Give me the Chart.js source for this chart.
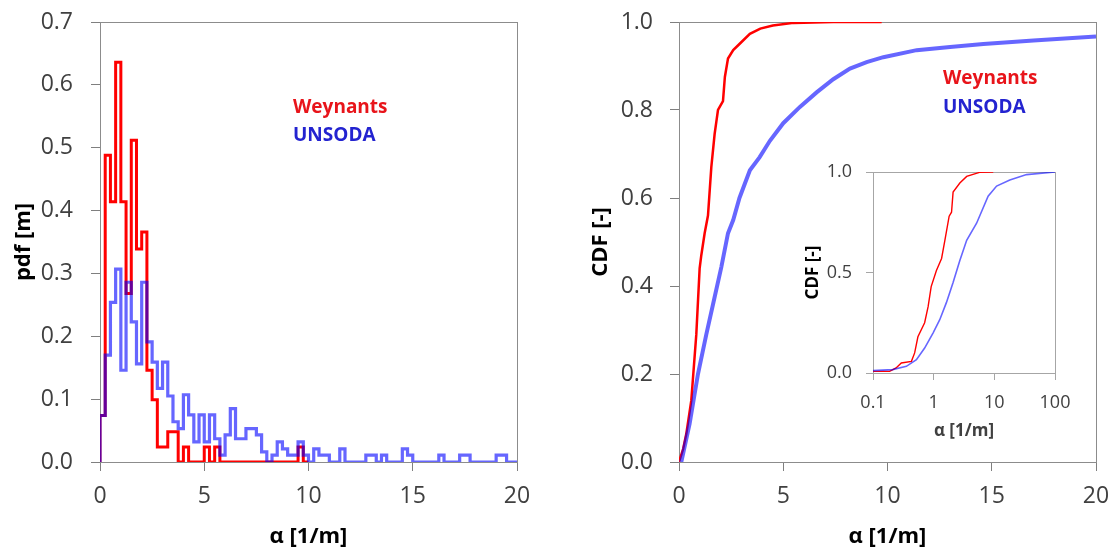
<!DOCTYPE html>
<html lang="en">
<head>
<meta charset="UTF-8">
<title>alpha pdf / CDF</title>
<script src="https://cdn.jsdelivr.net/npm/chart.js"></script>
<style>
  body { margin: 0; background: #fff; width: 1114px; height: 552px; position: relative; overflow: hidden; }
  canvas { position: absolute; }
  .leg { position: absolute; font-family: "Open Sans", sans-serif; font-weight: bold; font-size: 19px; line-height: 19px; white-space: nowrap; }
</style>
</head>
<body>
  <canvas id="grafPdf" width="560" height="552" style="left:0;top:0"></canvas>
  <canvas id="grafCdf" width="554" height="552" style="left:560px;top:0"></canvas>
  <canvas id="grafInset" width="300" height="300" style="left:790px;top:150px"></canvas>

  <div class="leg" style="left:293px;top:97px;color:#e8141a">Weynants</div>
  <div class="leg" style="left:293px;top:125px;color:#2323d0">UNSODA</div>
  <div class="leg" style="left:943px;top:68px;color:#e8141a">Weynants</div>
  <div class="leg" style="left:943px;top:97px;color:#2323d0">UNSODA</div>

<script>
// histogram bins, width 0.25 1/m starting at 0
const binWidth = 0.25;
const weynantsPdf = [
  0.074, 0.488, 0.414, 0.636, 0.414, 0.268, 0.512, 0.339, 0.366, 0.146,
  0.099, 0.024, 0.024, 0.048, 0.048, 0, 0.024, 0, 0, 0,
  0.024, 0, 0.024, 0, 0, 0, 0, 0, 0, 0,
  0, 0, 0, 0, 0, 0, 0, 0, 0.024, 0
];
const unsodaPdf = [
  0.074, 0.170, 0.254, 0.307, 0.146, 0.286, 0.223, 0.156, 0.286, 0.191,
  0.159, 0.117, 0.159, 0.105, 0.064, 0.053, 0.107, 0.075, 0.032, 0.075,
  0.032, 0.075, 0.037, 0.011, 0.043, 0.085, 0.037, 0.037, 0.053, 0.053,
  0.043, 0.016, 0, 0.011, 0.032, 0.021, 0.011, 0.011, 0.032, 0.011,
  0, 0.021, 0.011, 0.011, 0, 0, 0.021, 0, 0, 0,
  0, 0.011, 0.011, 0, 0.011, 0, 0, 0, 0.021, 0.011,
  0, 0, 0, 0, 0, 0.011, 0, 0, 0, 0.011,
  0.011, 0, 0, 0, 0, 0, 0.011, 0.011, 0, 0
];

// CDF, linear alpha axis (main panel)
const weyAlpha = [0, 0.2, 0.35, 0.59, 0.83, 0.99, 1.07, 1.23, 1.39, 1.55, 1.71, 1.79, 1.87, 2.11, 2.2, 2.35, 2.6, 2.9, 3.4, 3.9, 4.5, 5.5, 7.4, 9.72];
const weyCdf   = [0, 0.03, 0.064, 0.14, 0.29, 0.44, 0.47, 0.52, 0.56, 0.67, 0.746, 0.773, 0.80, 0.82, 0.875, 0.917, 0.936, 0.95, 0.973, 0.985, 0.992, 0.998, 1.0, 1.0];
const unsAlpha = [0.11, 0.51, 0.91, 1.31, 1.71, 2.03, 2.35, 2.6, 2.9, 3.4, 3.87, 4.36, 5.0, 5.8, 6.6, 7.4, 8.2, 9.0, 9.8, 11.4, 13.0, 14.6, 17.0, 20];
const unsCdf   = [0, 0.087, 0.2, 0.29, 0.375, 0.443, 0.52, 0.55, 0.60, 0.663, 0.693, 0.73, 0.77, 0.807, 0.84, 0.87, 0.894, 0.909, 0.92, 0.936, 0.943, 0.95, 0.958, 0.967];

// CDF, log alpha axis (inset)
const weyAlphaLog = [0.1, 0.188, 0.24, 0.293, 0.43, 0.486, 0.55, 0.71, 0.81, 0.91, 1.11, 1.35, 1.53, 1.8, 1.97, 2.09, 2.7, 3.5, 5.7, 9.6];
const weyCdfLog   = [0.008, 0.008, 0.025, 0.05, 0.058, 0.1, 0.18, 0.25, 0.33, 0.43, 0.51, 0.57, 0.66, 0.78, 0.8, 0.9, 0.945, 0.978, 0.998, 1.0];
const unsAlphaLog = [0.1, 0.21, 0.355, 0.52, 0.71, 0.98, 1.26, 1.62, 2.09, 2.7, 3.5, 5.1, 7.9, 10.9, 18, 34, 100];
const unsCdfLog   = [0.012, 0.017, 0.033, 0.066, 0.124, 0.2, 0.265, 0.35, 0.45, 0.56, 0.66, 0.745, 0.88, 0.93, 0.96, 0.987, 1.0];

const xTicksMain = [0, 5, 10, 15, 20];
const xTicksInset = [0.1, 1, 10, 100];

const RED = '#ff0000';
const BLUE = 'rgba(0, 0, 255, 0.6)';
Chart.defaults.font.family = '"Open Sans", sans-serif';

// histogram outline: one point on each left bin edge, stepped line
function histPoints(values) {
  const pts = [{ x: 0, y: 0 }];
  values.forEach((v, i) => pts.push({ x: i * binWidth, y: v }));
  pts.push({ x: values.length * binWidth, y: 0 });
  return pts;
}
function pairs(xs, ys) {
  return xs.map((x, i) => ({ x: x, y: ys[i] }));
}

// box around the plot area
const moldura = {
  id: 'moldura',
  beforeDatasetsDraw(chart, args, opts) {
    const { ctx, chartArea: a } = chart;
    ctx.save();
    ctx.strokeStyle = opts.cor;
    ctx.lineWidth = 1;
    ctx.strokeRect(Math.round(a.left) + 0.5, Math.round(a.top) + 0.5, Math.round(a.right - a.left), Math.round(a.bottom - a.top));
    ctx.restore();
  }
};

// fixed axis boxes, no extra room for overflowing labels
function fixX(h) {
  return s => { s.height = h; s.paddingLeft = 0; s.paddingRight = 0; };
}
function fixY(w) {
  return s => { s.width = w; s.paddingTop = 0; s.paddingBottom = 0; };
}

function axis(extra) {
  return Object.assign({
    type: 'linear',
    grid: { drawOnChartArea: false, drawTicks: true, tickLength: 9, color: '#7f7f7f' },
    border: { display: true, color: '#595959' },
  }, extra);
}
const tickFont = { size: 23 };
const titleFont = { size: 22, weight: 'bold' };

// ---------- left: pdf ----------
new Chart(document.getElementById('grafPdf'), {
  type: 'line',
  data: {
    datasets: [
      { label: 'UNSODA', data: histPoints(unsodaPdf), borderColor: BLUE, borderWidth: 3.2, stepped: 'before', order: 0 },
      { label: 'Weynants', data: histPoints(weynantsPdf), borderColor: RED, borderWidth: 3, stepped: 'before', order: 1 }
    ]
  },
  options: {
    responsive: false,
    animation: false,
    layout: { padding: { left: 0, right: 43, top: 22, bottom: 0 } },
    elements: { point: { radius: 0 }, line: { borderJoinStyle: 'miter' } },
    plugins: { legend: { display: false }, tooltip: { enabled: false }, moldura: { cor: '#8c8c8c' } },
    scales: {
      x: axis({
        min: 0, max: 20,
        afterBuildTicks: s => { s.ticks = xTicksMain.map(v => ({ value: v })); },
        afterFit: fixX(90),
        ticks: { color: '#404040', font: tickFont, padding: 12, autoSkip: false, maxRotation: 0 },
        title: { display: true, text: 'α [1/m]', color: '#000', font: titleFont, padding: { top: 0, bottom: 2 } }
      }),
      y: axis({
        min: 0, max: 0.7,
        afterFit: fixY(100),
        ticks: { color: '#404040', font: tickFont, padding: 18, stepSize: 0.1, callback: v => v.toFixed(1) },
        title: { display: true, text: 'pdf [m]', color: '#000', font: titleFont, padding: { top: 11, bottom: 0 } }
      })
    }
  },
  plugins: [moldura]
});

// ---------- right: CDF ----------
new Chart(document.getElementById('grafCdf'), {
  type: 'line',
  data: {
    datasets: [
      { label: 'UNSODA', data: pairs(unsAlpha, unsCdf), borderColor: BLUE, borderWidth: 4, order: 0 },
      { label: 'Weynants', data: pairs(weyAlpha, weyCdf), borderColor: RED, borderWidth: 2.5, order: 1 }
    ]
  },
  options: {
    responsive: false,
    animation: false,
    layout: { padding: { left: 0, right: 18, top: 22, bottom: 0 } },
    elements: { point: { radius: 0 }, line: { tension: 0 } },
    plugins: { legend: { display: false }, tooltip: { enabled: false }, moldura: { cor: '#8c8c8c' } },
    scales: {
      x: axis({
        min: 0, max: 20,
        afterBuildTicks: s => { s.ticks = xTicksMain.map(v => ({ value: v })); },
        afterFit: fixX(90),
        ticks: { color: '#404040', font: tickFont, padding: 12, autoSkip: false, maxRotation: 0 },
        title: { display: true, text: 'α [1/m]', color: '#000', font: titleFont, padding: { top: 0, bottom: 2 } }
      }),
      y: axis({
        min: 0, max: 1,
        afterFit: fixY(119),
        ticks: { color: '#404040', font: tickFont, padding: 17, stepSize: 0.2, callback: v => v.toFixed(1) },
        title: { display: true, text: 'CDF [-]', color: '#000', font: titleFont, padding: { top: 28, bottom: 0 } }
      })
    }
  },
  plugins: [moldura]
});

// ---------- inset: CDF on log axis ----------
new Chart(document.getElementById('grafInset'), {
  type: 'line',
  data: {
    datasets: [
      { label: 'UNSODA', data: pairs(unsAlphaLog, unsCdfLog), borderColor: BLUE, borderWidth: 1.6, order: 0 },
      { label: 'Weynants', data: pairs(weyAlphaLog, weyCdfLog), borderColor: RED, borderWidth: 1.4, order: 1 }
    ]
  },
  options: {
    responsive: false,
    animation: false,
    layout: { padding: { left: 0, right: 35, top: 22, bottom: 0 } },
    elements: { point: { radius: 0 }, line: { tension: 0 } },
    plugins: { legend: { display: false }, tooltip: { enabled: false }, moldura: { cor: '#a6a6a6' } },
    scales: {
      x: {
        type: 'logarithmic', min: 0.1, max: 100,
        afterBuildTicks: s => { s.ticks = xTicksInset.map(v => ({ value: v })); },
        afterFit: fixX(77),
        grid: { drawOnChartArea: false, tickLength: 7, color: '#a6a6a6' },
        border: { display: true, color: '#a6a6a6' },
        ticks: { color: '#404040', font: { size: 18 }, padding: 12, autoSkip: false, maxRotation: 0, callback: v => String(v) },
        title: { display: true, text: 'α [1/m]', color: '#404040', font: { size: 17, weight: 'bold' }, padding: { top: 0, bottom: 9 } }
      },
      y: {
        type: 'linear', min: 0, max: 1,
        afterFit: fixY(83),
        grid: { drawOnChartArea: false, tickLength: 7, color: '#a6a6a6' },
        border: { display: true, color: '#a6a6a6' },
        ticks: { color: '#404040', font: { size: 18 }, padding: 14, stepSize: 0.5, callback: v => v.toFixed(1) },
        title: { display: true, text: 'CDF [-]', color: '#000', font: { size: 17, weight: 'bold' }, padding: { top: 13, bottom: 0 } }
      }
    }
  },
  plugins: [moldura]
});
</script>
</body>
</html>
